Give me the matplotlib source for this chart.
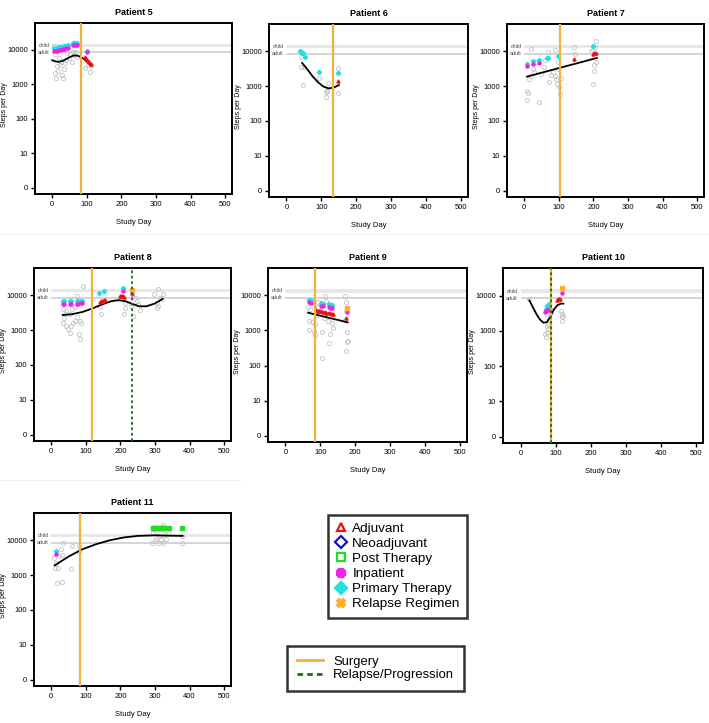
import numpy as np
import matplotlib
matplotlib.use("Agg")
import matplotlib.pyplot as plt
from matplotlib.lines import Line2D

plt.rcParams['font.family'] = ['Liberation Sans', 'DejaVu Sans']

# ---- data (steps per day vs study day) ----
Y_TICK_LABELS = ['0', '10', '100', '1000', '10000']
X_TICKS = [0, 100, 200, 300, 400, 500]
CHILD_BAND = (12000, 15000)
ADULT_BAND = (8000, 9000)

P5_DAY = [4, 7, 9, 11, 13, 16, 19, 22, 25, 28, 30, 33, 36, 40, 44, 48, 52, 56, 60, 64, 68, 72,
          95, 100, 104, 108, 112]
P5_STEPS = [13000, 7800, 2200, 1500, 3300, 2500, 6000, 3600, 4600, 1900, 1500, 2800, 4200, 5200,
            8300, 6000, 7600, 4500, 8800, 7200, 8500, 6400, 3000, 5000, 4000, 2300, 3600]
P5_FIT_DAY = [0, 10, 20, 30, 40, 50, 60, 70, 80, 90, 100, 112]
P5_FIT_STEPS = [5000, 4600, 4500, 4800, 5400, 6100, 6800, 6900, 6400, 5600, 4700, 3500]
P5_PHASES = [
    ("Primary Therapy", [5, 10, 15, 20, 25, 30, 35, 40, 45, 60, 64, 68, 72, 100],
     [11000, 10800, 11300, 11800, 12200, 12500, 12800, 13200, 13600, 15500, 15700, 15800, 15600, 9600]),
    ("Inpatient", [5, 10, 15, 20, 25, 30, 35, 40, 45, 60, 64, 68, 72, 100],
     [9200, 9000, 9500, 9900, 10200, 10500, 10900, 11300, 11700, 13800, 14000, 14000, 13800, 8600]),
    ("Adjuvant", [95, 99, 103, 107, 111], [6200, 5500, 4900, 4400, 3900]),
]
P5_SURGERY, P5_RELAPSE = 83, None

P6_DAY = [41, 43, 47, 50, 94, 113, 115, 118, 113, 149, 149, 117]
P6_STEPS = [3500, 6900, 1100, 3550, 1650, 690, 750, 1250, 475, 3200, 620, 700]
P6_FIT_DAY = [45, 60, 75, 90, 105, 120, 135, 150]
P6_FIT_STEPS = [4600, 3000, 1900, 1300, 980, 860, 900, 1070]
P6_PHASES = [
    ("Primary Therapy", [40, 42, 44, 46, 52, 94, 149], [10000, 9500, 9000, 8800, 6600, 2550, 2450]),
    ("Adjuvant", [149], [1420]),
]
P6_SURGERY, P6_RELAPSE = 133, None

P7_DAY = [19, 7, 7, 10, 14, 19, 29, 24, 34, 43, 48, 58, 68, 72, 77, 82, 90, 92, 94, 97, 99, 101,
          103, 106, 145, 148, 198, 203, 202, 198, 207, 207, 206, 193, 88, 60]
P7_STEPS = [11700, 740, 400, 620, 1600, 2000, 2600, 3150, 4800, 345, 2250, 3450, 9300, 1300, 2100,
            2500, 10500, 1600, 1150, 3150, 4800, 930, 600, 1700, 13500, 8300, 10500, 3900, 2700,
            1150, 4800, 19500, 13000, 10000, 2000, 5500]
P7_FIT_DAY = [8, 210]
P7_FIT_STEPS = [1870, 6400]
P7_PHASES = [
    ("Primary Therapy", [7, 24, 43, 66, 70, 97, 200], [4350, 5100, 5500, 6200, 6500, 7500, 14500]),
    ("Inpatient", [7, 24, 43], [3700, 4350, 4700]),
    ("Adjuvant", [145, 198, 203, 207], [6000, 8400, 8600, 8800]),
]
P7_SURGERY, P7_RELAPSE = 103, None

P8_DAY = [92, 73, 34, 39, 34, 44, 48, 58, 55, 63, 68, 73, 82, 85, 80, 82, 44, 53, 140, 145, 213,
          213, 210, 237, 247, 251, 256, 242, 232, 297, 305, 310, 305, 314, 319, 322, 309, 60, 70, 36]
P8_STEPS = [17800, 9500, 4000, 2800, 1630, 1300, 1050, 1300, 850, 1630, 1800, 2300, 1800, 1600,
            750, 540, 3500, 2800, 4500, 2800, 6150, 4200, 2800, 2500, 6900, 5600, 3700, 8500, 5000,
            10500, 6150, 14800, 4200, 8500, 7800, 10500, 5000, 3900, 4500, 2200]
P8_FIT_DAY = [33, 60, 90, 120, 150, 175, 195, 215, 235, 255, 275, 300, 322]
P8_FIT_STEPS = [2700, 2850, 3300, 4200, 5600, 6800, 7200, 6700, 5600, 4800, 4800, 5800, 7800]
P8_PHASES = [
    ("Primary Therapy", [33, 37, 53, 57, 73, 77, 85, 88, 138, 152, 208],
     [6600, 6600, 6600, 6600, 6600, 6600, 6700, 6800, 11200, 12800, 15600]),
    ("Inpatient", [33, 37, 53, 57, 73, 77, 85, 88, 208, 234],
     [5700, 5700, 5700, 5700, 5700, 5700, 5800, 5900, 13200, 10700]),
    ("Adjuvant", [140, 143, 146, 149, 152, 155, 199, 202, 205, 208, 211],
     [6500, 6700, 6900, 7000, 7200, 7400, 9400, 9600, 9500, 9300, 9000]),
    ("Relapse Regimen", [234], [13800]),
]
P8_SURGERY, P8_RELAPSE = 117, 234

P9_DAY = [65, 67, 67, 76, 82, 85, 85, 89, 92, 94, 99, 105, 105, 113, 115, 121, 128, 126, 133, 135,
          171, 173, 173, 176, 176, 178, 174, 171, 70, 110]
P9_STEPS = [4600, 1800, 1000, 1700, 880, 720, 1500, 2700, 4600, 6500, 3700, 930, 160, 9500, 7000,
            1850, 790, 430, 1600, 1200, 9500, 6500, 3700, 880, 460, 500, 260, 1950, 4000, 2200]
P9_FIT_DAY = [65, 178]
P9_FIT_STEPS = [3200, 1700]
P9_PHASES = [
    ("Primary Therapy", [68, 72, 103, 107, 125, 129, 133], [7500, 7300, 6000, 5800, 5600, 5400, 5200]),
    ("Inpatient", [68, 72, 103, 107, 125, 129, 133, 176], [6300, 6100, 5100, 5000, 4600, 4500, 4400, 3400]),
    ("Adjuvant", [87, 92, 97, 102, 107, 112, 117, 122, 127, 132, 137, 172],
     [3800, 3700, 3600, 3500, 3400, 3300, 3200, 3150, 3050, 2950, 2900, 2300]),
    ("Relapse Regimen", [176], [4500]),
]
P9_SURGERY, P9_RELAPSE = 85, None

P10_DAY = [24, 70, 74, 77, 79, 81, 74, 118, 118, 118, 115, 72, 76, 120]
P10_STEPS = [8200, 800, 900, 1150, 1600, 2000, 3000, 3000, 2400, 1900, 3700, 650, 1400, 2600]
P10_FIT_DAY = [25, 35, 45, 55, 65, 75, 85, 95, 105, 115, 122]
P10_FIT_STEPS = [7300, 4700, 3000, 2100, 1700, 1750, 2500, 4000, 5300, 5900, 5900]
P10_PHASES = [
    ("Primary Therapy", [72, 74, 76, 78, 80], [4250, 4600, 5000, 5400, 5600]),
    ("Inpatient", [70, 73, 76, 80, 83, 118], [3400, 3600, 3800, 4000, 4250, 11800]),
    ("Adjuvant", [104, 107, 110, 113], [7600, 7900, 8100, 8000]),
    ("Relapse Regimen", [118], [16500]),
]
P10_SURGERY, P10_RELAPSE = 88, 88

P11_DAY = [8, 11, 17, 20, 22, 27, 32, 34, 30, 56, 59, 81, 81, 294, 299, 304, 309, 314, 318, 323,
           323, 328, 333, 338, 377, 377, 292, 14]
P11_STEPS = [3000, 1600, 600, 1600, 3500, 5500, 3700, 8500, 620, 1500, 6800, 6800, 4500, 16000,
             9500, 11000, 8200, 13000, 11000, 28000, 8500, 15000, 11000, 16000, 13500, 8200, 8200, 2200]
P11_FIT_DAY = [10, 50, 90, 130, 170, 210, 250, 300, 340, 380]
P11_FIT_STEPS = [1900, 3400, 5500, 7700, 10000, 12000, 13300, 13800, 13500, 13300]
P11_PHASES = [
    ("Primary Therapy", [15], [4900]),
    ("Inpatient", [15], [4100]),
    ("Post Therapy", [295, 298, 301, 304, 315, 318, 321, 324, 327, 342, 378],
     [23000, 23000, 23000, 23000, 23000, 23000, 23000, 23000, 23000, 23000, 23000]),
]
P11_SURGERY, P11_RELAPSE = 84, None

# ---- styles ----
PHASE_STYLE = {
    "Adjuvant": dict(color="#ee1111", marker="^"),
    "Neoadjuvant": dict(color="#1111cc", marker="D"),
    "Post Therapy": dict(color="#22dd22", marker="s"),
    "Inpatient": dict(color="#ee22ee", marker="o"),
    "Primary Therapy": dict(color="#22e0e0", marker="D"),
    "Relapse Regimen": dict(color="#ffb030", marker="s"),
}
SURGERY_COLOR = "#f2b03c"
RELAPSE_COLOR = "#1a6b1a"


def lg(v):
    return np.log10(np.asarray(v, dtype=float) + 1)


def draw_panel(ax, title, day, steps, fit_day, fit_steps, phases, surgery, relapse):
    ax.set_xlim(-50, 520)
    ax.set_ylim(-0.18, 4.78)
    # reference bands
    ax.fill_between([0, 540], lg(CHILD_BAND[0]), lg(CHILD_BAND[1]), color="#e8e8e8", lw=0, zorder=0)
    ax.fill_between([0, 540], lg(ADULT_BAND[0]), lg(ADULT_BAND[1]), color="#d6d6d6", lw=0, zorder=0)
    ax.text(-8, lg(np.sqrt(CHILD_BAND[0] * CHILD_BAND[1])), "child", fontsize=3.8,
            ha="right", va="center", color="#444444")
    ax.text(-8, lg(np.sqrt(ADULT_BAND[0] * ADULT_BAND[1])), "adult", fontsize=3.8,
            ha="right", va="center", color="#444444")
    ax.plot(day, lg(steps), "o", ms=3, mfc="none", mec="#c4c4c4", mew=0.6, zorder=2)
    for name, pd, ps in phases:
        st = PHASE_STYLE[name]
        ax.plot(pd, lg(ps), linestyle="none", marker=st["marker"], ms=2.2,
                color=st["color"], mec=st["color"], zorder=4)
    ax.plot(fit_day, lg(fit_steps), color="black", lw=1.3, zorder=3)
    if surgery is not None:
        ax.axvline(surgery, color=SURGERY_COLOR, lw=1.6, zorder=5)
    if relapse is not None:
        ax.axvline(relapse, color=RELAPSE_COLOR, lw=1.3, ls=(0, (1.5, 1.5)), zorder=6)
    ax.set_xticks(X_TICKS)
    ax.set_yticks(range(5))
    ax.set_yticklabels(Y_TICK_LABELS)
    ax.tick_params(labelsize=5.5, length=3, width=1, pad=2)
    for sp in ax.spines.values():
        sp.set_linewidth(1.4)
    ax.set_title(title, fontsize=6.5, fontweight="bold", pad=6)
    ax.set_xlabel("Study Day", fontsize=5.5, labelpad=8)
    ax.set_ylabel("Steps per Day", fontsize=5)
    ax.yaxis.set_label_coords(-27.0 / (ax.get_position().width * W), 0.52)


fig = plt.figure(figsize=(7.09, 7.23), dpi=100)
W, H = 709.0, 723.0


def box(x0, y0, x1, y1):
    return [x0 / W, 1 - y1 / H, (x1 - x0) / W, (y1 - y0) / H]


panels = [
    (box(35, 23, 232, 194), "Patient 5", P5_DAY, P5_STEPS, P5_FIT_DAY, P5_FIT_STEPS, P5_PHASES, P5_SURGERY, P5_RELAPSE),
    (box(269, 24, 468, 197), "Patient 6", P6_DAY, P6_STEPS, P6_FIT_DAY, P6_FIT_STEPS, P6_PHASES, P6_SURGERY, P6_RELAPSE),
    (box(507, 24, 704, 197), "Patient 7", P7_DAY, P7_STEPS, P7_FIT_DAY, P7_FIT_STEPS, P7_PHASES, P7_SURGERY, P7_RELAPSE),
    (box(34, 268, 231, 441), "Patient 8", P8_DAY, P8_STEPS, P8_FIT_DAY, P8_FIT_STEPS, P8_PHASES, P8_SURGERY, P8_RELAPSE),
    (box(268, 268, 467, 442), "Patient 9", P9_DAY, P9_STEPS, P9_FIT_DAY, P9_FIT_STEPS, P9_PHASES, P9_SURGERY, P9_RELAPSE),
    (box(503, 268, 703, 443), "Patient 10", P10_DAY, P10_STEPS, P10_FIT_DAY, P10_FIT_STEPS, P10_PHASES, P10_SURGERY, P10_RELAPSE),
    (box(34, 513, 231, 686), "Patient 11", P11_DAY, P11_STEPS, P11_FIT_DAY, P11_FIT_STEPS, P11_PHASES, P11_SURGERY, P11_RELAPSE),
]
for rect, *args in panels:
    ax = fig.add_axes(rect)
    draw_panel(ax, *args)

# faint separators between the tiled images
fig.add_artist(Line2D([0, 1], [1 - 234 / H] * 2, color="#eeeeee", lw=0.8))
fig.add_artist(Line2D([0, 240 / W], [1 - 480 / H] * 2, color="#eeeeee", lw=0.8))

# phase legend
phase_handles = []
for name in ["Adjuvant", "Neoadjuvant", "Post Therapy", "Inpatient", "Primary Therapy", "Relapse Regimen"]:
    st = PHASE_STYLE[name]
    filled = name in ("Inpatient", "Primary Therapy", "Relapse Regimen")
    mk = {"Inpatient": "8", "Relapse Regimen": "X"}.get(name, st["marker"])
    phase_handles.append(Line2D([], [], linestyle="none", marker=mk, ms=6,
                                mfc=st["color"] if filled else "none",
                                mec=st["color"], mew=1.6, label=name))
leg1 = fig.legend(handles=phase_handles, loc="upper left", bbox_to_anchor=(328 / W, 1 - 515 / H),
                  fontsize=9.7, frameon=True, fancybox=False, edgecolor="black",
                  borderaxespad=0, handlelength=0.8, handletextpad=0.45, labelspacing=0.2,
                  borderpad=0.55)
leg1.get_frame().set_linewidth(1.8)

line_handles = [
    Line2D([], [], color=SURGERY_COLOR, lw=2, label="Surgery"),
    Line2D([], [], color=RELAPSE_COLOR, lw=2, ls=(0, (2, 1.5)), label="Relapse/Progression"),
]
leg2 = fig.legend(handles=line_handles, loc="upper left", bbox_to_anchor=(287 / W, 1 - 646 / H),
                  fontsize=9.4, frameon=True, fancybox=False, edgecolor="black",
                  borderaxespad=0, handlelength=2.0, handletextpad=0.8, labelspacing=0.1,
                  borderpad=0.75)
leg2.get_frame().set_linewidth(1.8)

fig.savefig("out.png", dpi=100)
